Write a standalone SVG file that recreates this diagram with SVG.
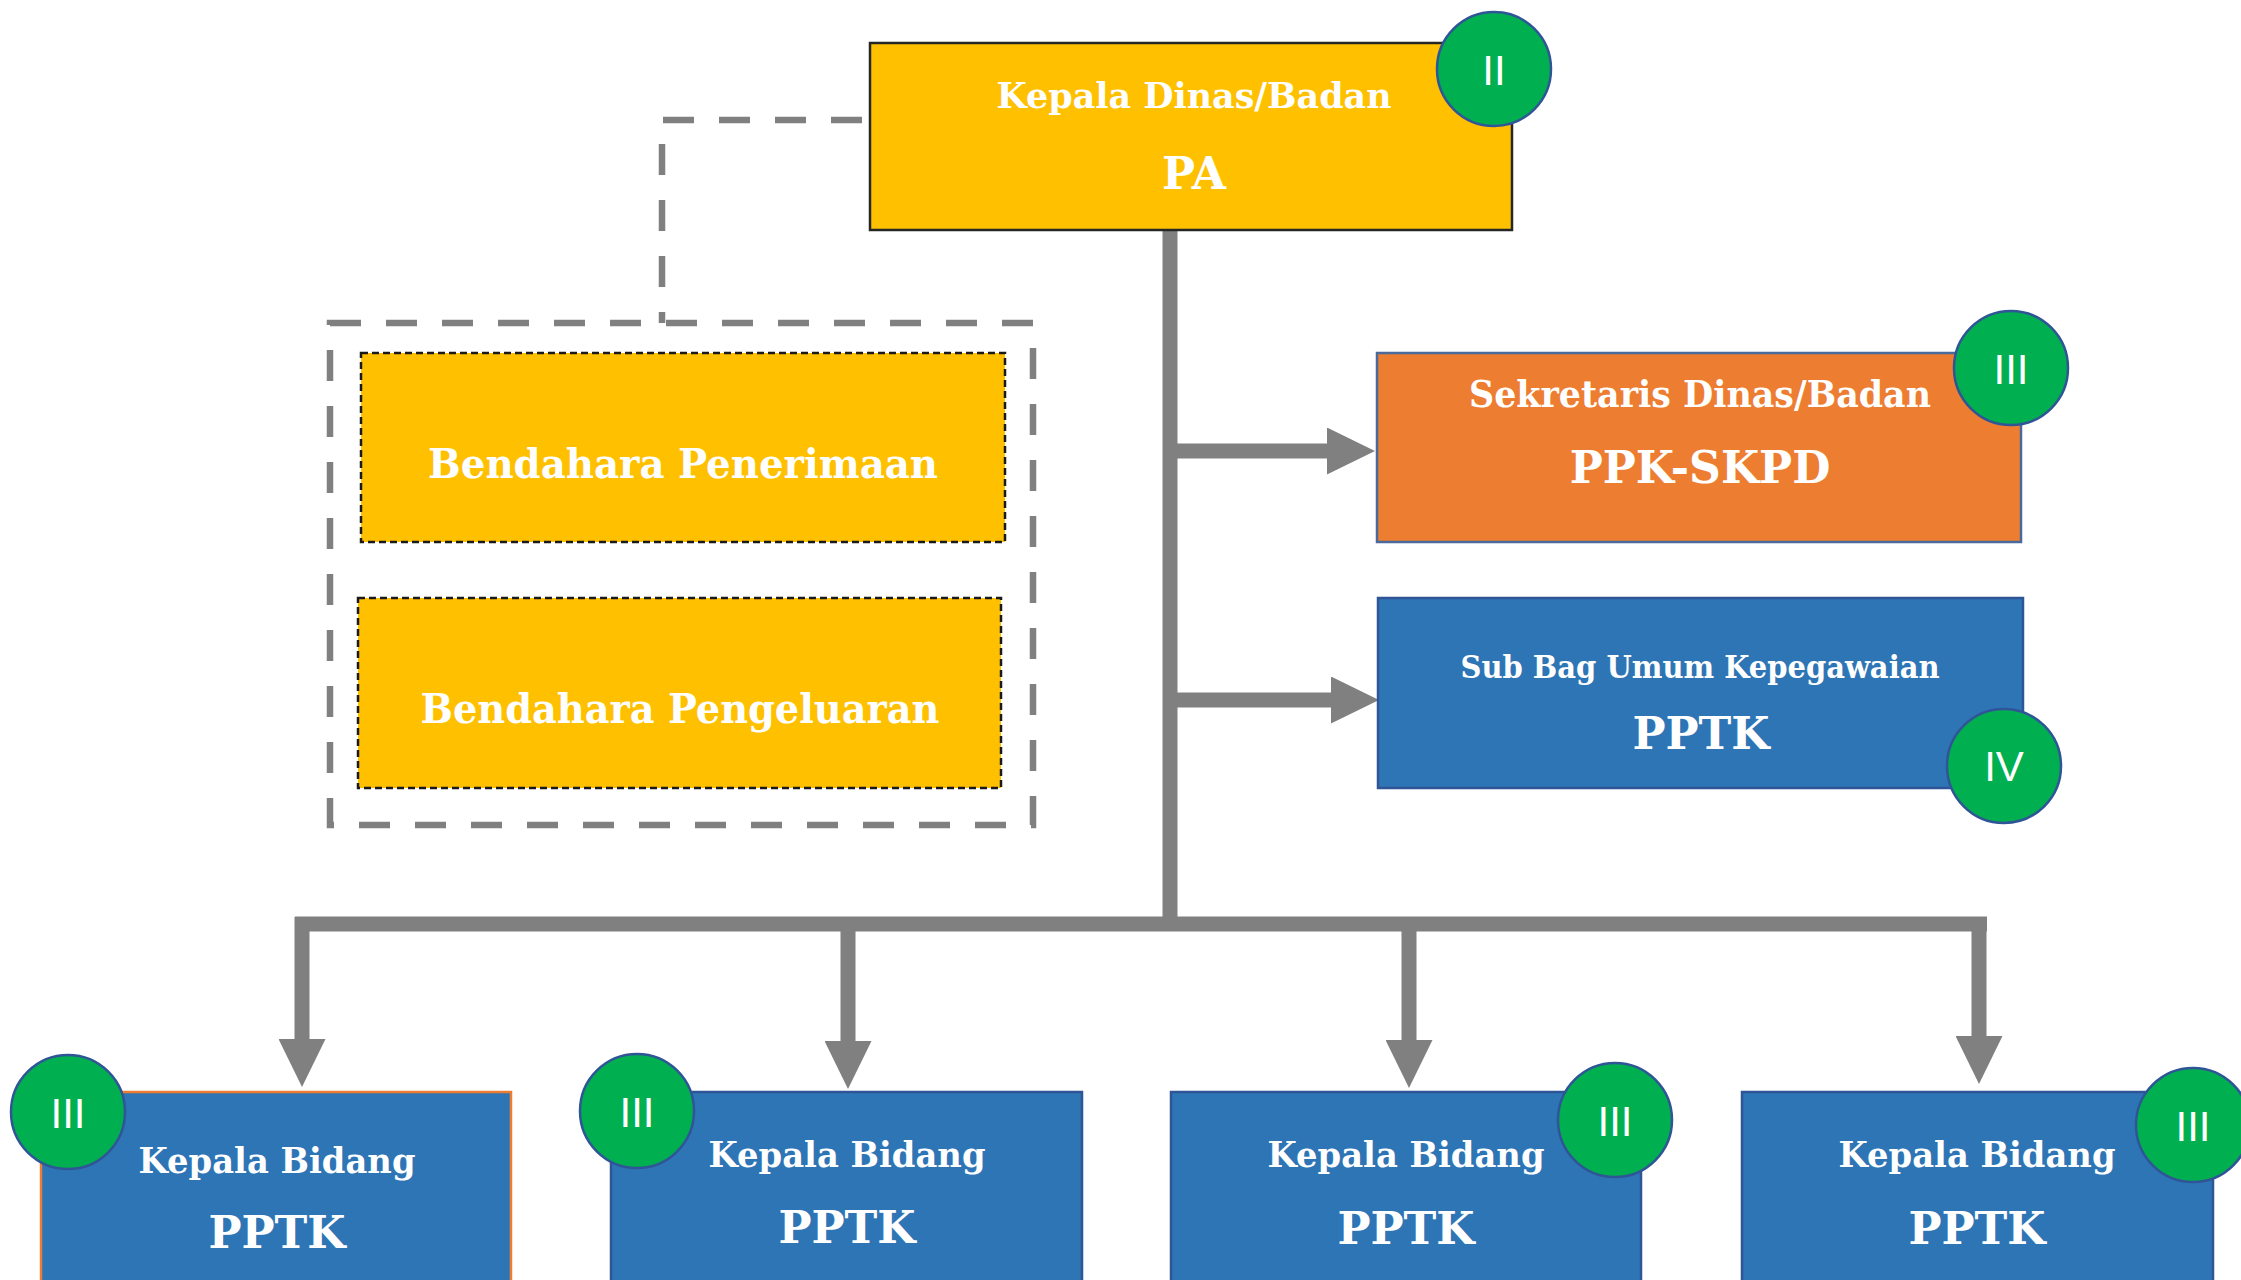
<svg xmlns="http://www.w3.org/2000/svg" width="2241" height="1280" viewBox="0 0 2241 1280">
<style>
.lbl{font-family:"DejaVu Serif","Liberation Serif",serif;font-weight:bold;fill:#fff;text-anchor:middle}
.rom{font-family:"Liberation Sans","Open Sans",sans-serif;fill:#fff;text-anchor:middle;font-size:42px}
.badge{fill:#00B050;stroke:#2F5597;stroke-width:2.5}
.blue{fill:#2E75B6;stroke:#2F5597;stroke-width:2.5}
.yel{fill:#FFC000;stroke:#1a1a1a;stroke-width:2.5;stroke-dasharray:7 4}
.conn{fill:none;stroke:#808080;stroke-width:15}
.dash{fill:none;stroke:#808080;stroke-width:6.5;stroke-dasharray:31 25}
</style>
<defs>
<marker id="ah" markerUnits="userSpaceOnUse" viewBox="0 0 48 47" markerWidth="48" markerHeight="47" refX="1" refY="23.5" orient="auto">
<path d="M0 0 L48 23.5 L0 47 Z" fill="#808080"/>
</marker>
</defs>
<rect width="2241" height="1280" fill="#fff"/>
<g id="connectors">
<path class="dash" d="M862 120 H662 V323"/>
<path class="conn" d="M1170 221 V924"/>
<path class="conn" stroke-width="16" d="M295 924 H1987"/>
<path class="conn" d="M1170 451 H1328" marker-end="url(#ah)"/>
<path class="conn" d="M1170 700 H1332" marker-end="url(#ah)"/>
<path class="conn" d="M302 917 V1040" marker-end="url(#ah)"/>
<path class="conn" d="M848 924 V1042" marker-end="url(#ah)"/>
<path class="conn" d="M1409 924 V1041" marker-end="url(#ah)"/>
<path class="conn" d="M1979 917 V1037" marker-end="url(#ah)"/>
</g>
<g id="bendahara-group">
<rect class="dash" x="330" y="323" width="703" height="502"/>
</g>
<g id="pa">
<rect x="870" y="43" width="642" height="187" fill="#FFC000" stroke="#262626" stroke-width="2.5"/>
<text class="lbl" x="1194" y="108" font-size="36" textLength="395" lengthAdjust="spacingAndGlyphs">Kepala Dinas/Badan</text>
<text class="lbl" x="1194" y="189" font-size="44">PA</text>
<circle class="badge" cx="1494" cy="69" r="57"/>
<text class="rom" x="1494" y="85">II</text>
</g>
<g id="bendahara-penerimaan">
<rect class="yel" x="361" y="353" width="644" height="189"/>
<text class="lbl" x="683" y="478" font-size="41" textLength="510" lengthAdjust="spacingAndGlyphs">Bendahara Penerimaan</text>
</g>
<g id="bendahara-pengeluaran">
<rect class="yel" x="358" y="598" width="643" height="190"/>
<text class="lbl" x="680" y="723" font-size="41" textLength="519" lengthAdjust="spacingAndGlyphs">Bendahara Pengeluaran</text>
</g>
<g id="sekretaris">
<rect x="1377" y="353" width="644" height="189" fill="#ED7D31" stroke="#4A6A9C" stroke-width="2.5"/>
<text class="lbl" x="1700" y="407" font-size="37" textLength="462" lengthAdjust="spacingAndGlyphs">Sekretaris Dinas/Badan</text>
<text class="lbl" x="1700" y="483" font-size="44">PPK-SKPD</text>
<circle class="badge" cx="2011" cy="368" r="57"/>
<text class="rom" x="2011" y="384">III</text>
</g>
<g id="subbag">
<rect class="blue" x="1378" y="598" width="645" height="190"/>
<text class="lbl" x="1700" y="678" font-size="31" textLength="479" lengthAdjust="spacingAndGlyphs">Sub Bag Umum Kepegawaian</text>
<text class="lbl" x="1701" y="749" font-size="44">PPTK</text>
<circle class="badge" cx="2004" cy="766" r="57"/>
<text class="rom" x="2004" y="781">IV</text>
</g>
<g id="bidang1">
<rect x="41" y="1092" width="470" height="200" fill="#2E75B6" stroke="#ED7D31" stroke-width="2.5"/>
<text class="lbl" x="277" y="1173" font-size="36" textLength="277" lengthAdjust="spacingAndGlyphs">Kepala Bidang</text>
<text class="lbl" x="277" y="1248" font-size="44">PPTK</text>
<circle class="badge" cx="68" cy="1112" r="57"/>
<text class="rom" x="68" y="1128">III</text>
</g>
<g id="bidang2">
<rect class="blue" x="611" y="1092" width="471" height="200"/>
<text class="lbl" x="847" y="1167" font-size="36" textLength="277" lengthAdjust="spacingAndGlyphs">Kepala Bidang</text>
<text class="lbl" x="847" y="1243" font-size="44">PPTK</text>
<circle class="badge" cx="637" cy="1111" r="57"/>
<text class="rom" x="637" y="1127">III</text>
</g>
<g id="bidang3">
<rect class="blue" x="1171" y="1092" width="470" height="200"/>
<text class="lbl" x="1406" y="1167" font-size="36" textLength="277" lengthAdjust="spacingAndGlyphs">Kepala Bidang</text>
<text class="lbl" x="1406" y="1244" font-size="44">PPTK</text>
<circle class="badge" cx="1615" cy="1120" r="57"/>
<text class="rom" x="1615" y="1136">III</text>
</g>
<g id="bidang4">
<rect class="blue" x="1742" y="1092" width="471" height="200"/>
<text class="lbl" x="1977" y="1167" font-size="36" textLength="277" lengthAdjust="spacingAndGlyphs">Kepala Bidang</text>
<text class="lbl" x="1977" y="1244" font-size="44">PPTK</text>
<circle class="badge" cx="2193" cy="1125" r="57"/>
<text class="rom" x="2193" y="1141">III</text>
</g>
</svg>
